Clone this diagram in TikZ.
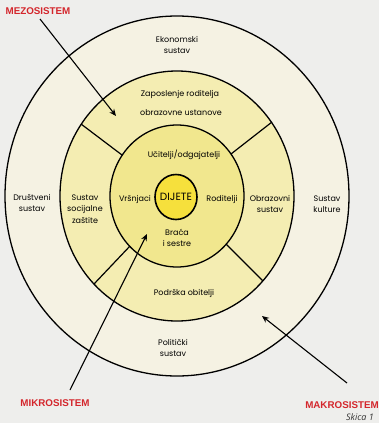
\documentclass[tikz,border=0pt]{standalone}
\usepackage{fontspec}
\newfontfamily\labfont{Poppins}
\newfontfamily\hdfont{Liberation Sans}
\newfontfamily\capfont{Open Sans}
\usetikzlibrary{arrows.meta,shapes.geometric}
\definecolor{bgc}{HTML}{EEEEEC}
\definecolor{outerc}{HTML}{F5F2E3}
\definecolor{mesoc}{HTML}{F4EDB2}
\definecolor{microc}{HTML}{F1E78E}
\definecolor{childc}{HTML}{F6E03C}
\definecolor{redc}{HTML}{D4262C}
\tikzset{
  lab/.style={font=\labfont\fontsize{8}{11.5}\selectfont, align=center, inner sep=0pt},
  sys/.style={font=\hdfont\bfseries\fontsize{9.8}{11}\selectfont, text=redc, inner sep=0pt},
  ring/.style={draw=black, line width=1.3pt},
  divider/.style={draw=black, line width=1.2pt},
  pointer/.style={draw=black, line width=1.1pt, -{Stealth[length=7pt,width=6pt]}}
}
\begin{document}
\begin{tikzpicture}[x=1pt,y=-1pt]
\useasboundingbox (0,0) rectangle (379,423);
\fill[bgc] (0,0) rectangle (379,423);
% rings
\path[ring, fill=outerc] (177,196) ellipse [x radius=172, y radius=180];
\path[ring, fill=mesoc] (177,196) ellipse [x radius=117, y radius=125];
\path[ring, fill=microc] (177,196) ellipse [x radius=67, y radius=71];
% dividers
\draw[divider] (122,155) -- (81,124);
\draw[divider] (231,154) -- (272,122);
\draw[divider] (130,246) -- (94,284);
\draw[divider] (226,244) -- (263,281);
% child
\node[draw=black, line width=1.6pt, fill=childc, ellipse, minimum width=42pt, minimum height=45pt, inner sep=0pt] (child) at (176,197) {};
\node[font=\labfont\fontsize{10.5}{12}\selectfont, inner sep=0pt] (dijete) at (176,197) {DIJETE};
% labels
\node[lab] (ekon) at (177,45) {Ekonomski\\sustav};
\node[lab] (zap) at (180,94) {Zaposlenje roditelja};
\node[lab] (obr) at (181,113) {obrazovne ustanove};
\node[lab] (uc) at (184,155) {Učitelji/odgajatelji};
\node[lab] (vrs) at (135,199) {Vršnjaci};
\node[lab] (rod) at (222,199) {Roditelji};
\node[lab] (bra) at (177,238) {Braća\\i sestre};
\node[lab] (obs) at (270,204) {Obrazovni\\sustav};
\node[lab] (kul) at (327,204) {Sustav\\kulture};
\node[lab] (dru) at (32,203) {Društveni\\sustav};
\node[lab] (soc) at (85,209) {Sustav\\socijalne\\zaštite};
\node[lab] (pod) at (184,293) {Podrška obitelji};
\node[lab] (pol) at (173,348) {Politički\\sustav};
% system labels
\node[sys] (mezo) at (38,11) {MEZOSISTEM};
\node[sys] (mikro) at (55,403) {MIKROSISTEM};
\node[sys] (makro) at (342,405) {MAKROSISTEM};
\node[font=\capfont\itshape\fontsize{9}{10}\selectfont, text=black!80, inner sep=0pt, anchor=west] (skica) at (346,417) {Skica 1};
% pointers
\coordinate (mezoS) at (40,19);
\coordinate (mezoE) at (116,116);
\coordinate (mikroS) at (70,390);
\coordinate (mikroE) at (147,234);
\coordinate (makroS) at (347,383);
\coordinate (makroE) at (262,316);
\draw[pointer] (mezoS) -- (mezoE);
\draw[pointer] (mikroS) -- (mikroE);
\draw[pointer] (makroS) -- (makroE);
\end{tikzpicture}
\end{document}
